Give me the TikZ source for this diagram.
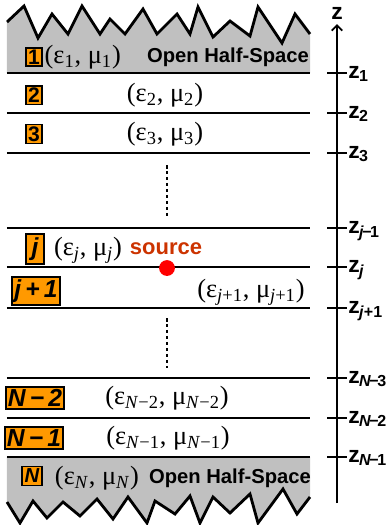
\documentclass[tikz,border=0pt]{standalone}
\usepackage{fontspec}
\setmainfont{Liberation Serif}
\setsansfont{Liberation Sans}
\usepackage{tikz}
\usetikzlibrary{arrows.meta, positioning, calc}
\definecolor{boxorange}{RGB}{255,153,0}
\definecolor{halfgray}{RGB}{192,192,192}
\definecolor{srcred}{RGB}{204,51,0}
\definecolor{dotred}{RGB}{255,0,0}
\newcommand{\epmu}[1]{(ε\textsubscript{#1}, μ\textsubscript{#1})}
\newcommand{\tminus}{\kern-0.9pt−\kern-0.9pt}
\tikzset{
  layerbox/.style={rectangle, draw=black, fill=boxorange, line width=0.9pt, inner sep=1.1pt,
    font=\sffamily\bfseries\fontsize{12}{14}\selectfont},
  widebox/.style={layerbox, inner sep=1.3pt, font=\sffamily\bfseries\itshape\fontsize{14}{16}\selectfont},
  params/.style={inner sep=0pt, font=\fontsize{15}{17}\selectfont},
  halfspace/.style={inner sep=0pt, font=\sffamily\bfseries\fontsize{11.5}{13}\selectfont},
  iface/.style={line width=1.7pt, color=black},
  zig/.style={line width=1.6pt, color=black, line join=miter},
  dotline/.style={line width=1.7pt, color=black, dash pattern=on 2pt off 1.4pt}
}
\begin{document}
\begin{tikzpicture}[x=0.02cm, y=-0.02cm,
  axis/.style={line width=1.1pt, -{Straight Barb[length=3pt, width=6pt]}},
  tick/.style={line width=1.1pt},
  zlabel/.style={anchor=base west, inner sep=0pt, font=\sffamily\bfseries\fontsize{13}{15}\selectfont},
  srcdot/.style={circle, fill=dotred, minimum size=9pt, inner sep=0pt}
]
\useasboundingbox (0,0) rectangle (388,525);
% open half-spaces
\fill[halfgray] (7,73) -- (7,22) -- (24,6) -- (38,38) -- (52,14) -- (68,34) -- (82,6) -- (100,34) -- (110,19) -- (125,34)
  -- (143,9) -- (157,34) -- (177,14) -- (190,34) -- (198,7) -- (213,37) -- (230,21) -- (250,36) -- (258,7)
  -- (282,43) -- (295,14) -- (310,34) -- (310,73) -- cycle;
\draw[zig] (7,22) -- (24,6) -- (38,38) -- (52,14) -- (68,34) -- (82,6) -- (100,34) -- (110,19) -- (125,34)
  -- (143,9) -- (157,34) -- (177,14) -- (190,34) -- (198,7) -- (213,37) -- (230,21) -- (250,36) -- (258,7)
  -- (282,43) -- (295,14) -- (310,34);
\fill[halfgray] (7,457) -- (7,502) -- (20,523) -- (33,501) -- (47,518) -- (63,502) -- (80,516) -- (97,499) -- (113,519)
  -- (128,497) -- (147,523) -- (155,501) -- (175,514) -- (190,496) -- (200,523) -- (213,497) -- (230,513)
  -- (250,494) -- (258,523) -- (283,489) -- (297,514) -- (310,497) -- (310,457) -- cycle;
\draw[zig] (7,502) -- (20,523) -- (33,501) -- (47,518) -- (63,502) -- (80,516) -- (97,499) -- (113,519)
  -- (128,497) -- (147,523) -- (155,501) -- (175,514) -- (190,496) -- (200,523) -- (213,497) -- (230,513)
  -- (250,494) -- (258,523) -- (283,489) -- (297,514) -- (310,497);
% interfaces and z axis
\coordinate (ax0) at (337,503);
\coordinate (ax1) at (337,24);
\draw[axis] (ax0) -- (ax1);
\node[zlabel, anchor=base] (ztop) at (337,19) {z};
\foreach \y/\lbl in {73/1, 113/2, 153/3, 228/{\textit{j}\tminus1}, 267/\textit{j}, 308/{\textit{j}+1},
    378/{\textit{N}\tminus3}, 418/{\textit{N}\tminus2}, 457/{\textit{N}\tminus1}} {
  \draw[iface] (7,\y) -- (310,\y);
  \draw[tick] (327,\y) -- (347,\y);
  \node[zlabel] (z\y) at (348,\y+5) {z\kern-0.3pt\textsubscript{\lbl}};
}
% layers
\node[layerbox] (B1) at (34,57) {1};
\node[params, right=1pt of B1] (P1) {\epmu{1}};
\node[halfspace] (H1) at (228,57) {Open Half-Space};
\node[layerbox] (B2) at (34,95) {2};
\node[params] (P2) at (165,95) {\epmu{2}};
\node[layerbox] (B3) at (34,134) {3};
\node[params] (P3) at (165,134) {\epmu{3}};
\coordinate (dA1) at (167,165);
\coordinate (dA2) at (167,218);
\draw[dotline] (dA1) -- (dA2);
\node[widebox, minimum width=10pt, minimum height=17pt] (Bj) at (35,249) {j};
\node[params] (Pj) at (88,250) {\epmu{\textit{j}}};
\node[halfspace, color=srcred, font=\sffamily\bfseries\fontsize{12.5}{14}\selectfont] (src) at (166,249) {source};
\node[srcdot] (S) at (167,268) {};
\node[widebox] (Bj1) at (36,291) {j\,+\,1};
\node[params] (Pj1) at (251,292) {\epmu{\textit{j}+1}};
\coordinate (dB1) at (167,318);
\coordinate (dB2) at (167,368);
\draw[dotline] (dB1) -- (dB2);
\node[widebox] (BN2) at (35,398) {N\,−\,2};
\node[params] (PN2) at (167,398) {\epmu{\textit{N}−2}};
\node[widebox] (BN1) at (34,438) {N\,−\,1};
\node[params] (PN1) at (168,438) {\epmu{\textit{N}−1}};
\node[layerbox, inner sep=1.5pt, font=\sffamily\bfseries\itshape\fontsize{11.5}{13}\selectfont] (BN) at (32,476) {N};
\node[params] (PN) at (97,478) {\epmu{\textit{N}}};
\node[halfspace] (HN) at (230,478) {Open Half-Space};
\end{tikzpicture}
\end{document}
